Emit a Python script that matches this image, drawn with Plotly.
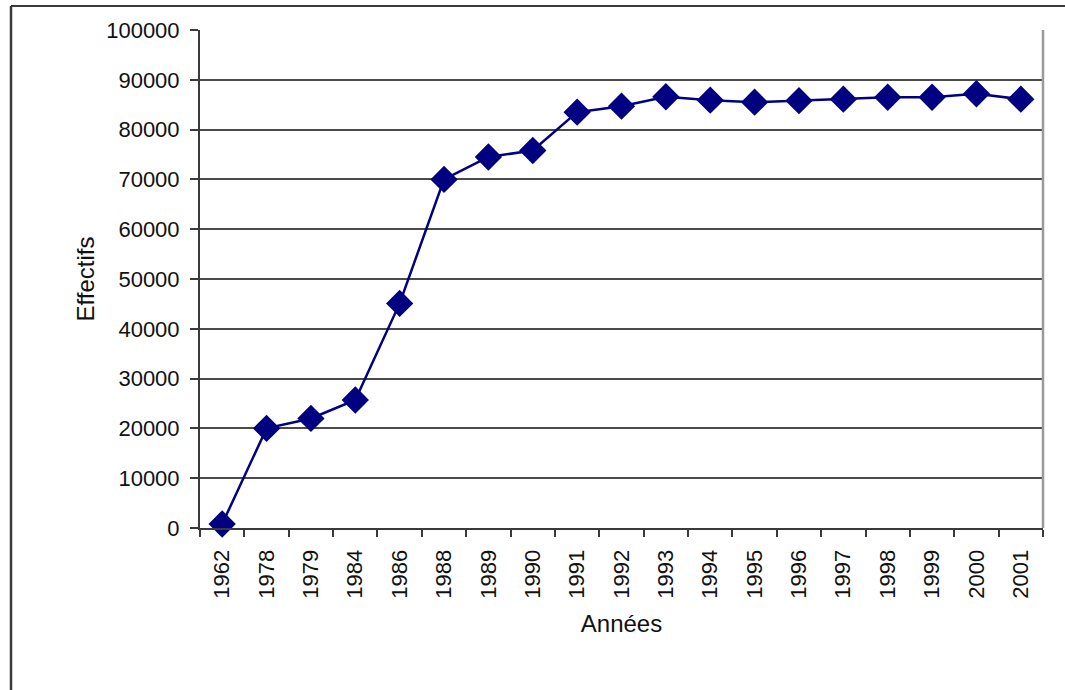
import plotly.graph_objects as go

# Effectifs par année
annees = ["1962", "1978", "1979", "1984", "1986", "1988", "1989", "1990", "1991", "1992",
          "1993", "1994", "1995", "1996", "1997", "1998", "1999", "2000", "2001"]
effectifs = [800, 20000, 22000, 25700, 45100, 70000, 74500, 75800, 83500, 84700,
             86600, 85900, 85500, 85800, 86100, 86500, 86500, 87200, 86100]
y_ticks = [0, 10000, 20000, 30000, 40000, 50000, 60000, 70000, 80000, 90000, 100000]

FONT = "Liberation Sans, Arial, sans-serif"
NAVY = "#000080"
DARK = "#3a3a3a"

fig = go.Figure()
fig.add_trace(go.Scatter(
    x=annees, y=effectifs, mode="lines+markers",
    line=dict(color=NAVY, width=2.5),
    marker=dict(symbol="diamond", size=21, color=NAVY),
    cliponaxis=False, showlegend=False,
))

fig.update_layout(
    width=1065, height=690,
    margin=dict(l=200, r=22, t=30, b=162),
    paper_bgcolor="white", plot_bgcolor="white",
    font=dict(family=FONT, size=22, color="#111"),
    xaxis=dict(
        type="category", range=[-0.5, len(annees) - 0.5],
        tickangle=-90, tickson="boundaries",
        ticks="outside", ticklen=7, tickwidth=2, tickcolor=DARK,
        showline=True, linecolor=DARK, linewidth=2, showgrid=False,
        ticklabelstandoff=11,
        title=dict(text="Années", font=dict(size=24), standoff=17),
        tickfont=dict(size=22),
    ),
    yaxis=dict(
        range=[0, 100000], tickvals=y_ticks, ticktext=[str(v) for v in y_ticks],
        ticks="outside", ticklen=8, tickwidth=2, tickcolor=DARK,
        showline=True, linecolor=DARK, linewidth=2,
        showgrid=True, gridcolor="#4a4a4a", gridwidth=1.5,
        zeroline=False, ticklabelstandoff=6,
        title=dict(text="Effectifs", font=dict(size=24), standoff=5),
        tickfont=dict(size=22),
    ),
    shapes=[
        # right border of the plot area
        dict(type="line", xref="paper", yref="paper", x0=1, x1=1, y0=0, y1=1,
             line=dict(color="#9a9a9a", width=2.5)),
        # outer frame (top and left)
        dict(type="line", xref="paper", yref="paper", x0=-0.2242, x1=1.03,
             y0=1.0482, y1=1.0482, line=dict(color=DARK, width=2)),
        dict(type="line", xref="paper", yref="paper", x0=-0.2242, x1=-0.2242,
             y0=1.0482, y1=-0.33, line=dict(color=DARK, width=2.5)),
    ],
)

fig.write_html("out.html")
